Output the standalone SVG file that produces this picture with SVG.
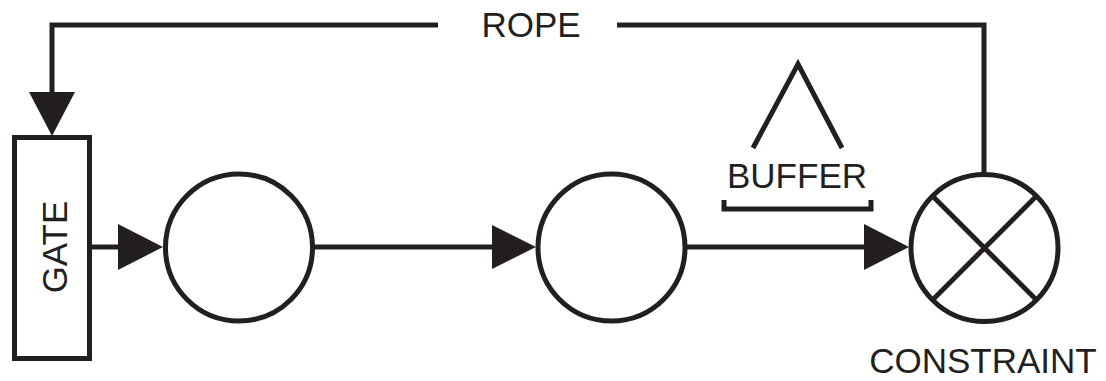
<svg xmlns="http://www.w3.org/2000/svg" width="1106" height="381" viewBox="0 0 1106 381">
<style>
.ln{fill:none;stroke:#231f20;stroke-width:5;stroke-linejoin:miter}
.nd{fill:#fff;stroke:#231f20;stroke-width:5}
.ah{fill:#231f20}
.tx{font-family:"Liberation Sans",Arial,sans-serif;fill:#231f20;font-size:35px}
</style>
<rect width="1106" height="381" fill="#fff"/>
<g id="connectors">
<polyline class="ln" points="438,25 52,25 52,95"/>
<polygon class="ah" points="29,92 75,92 52,136"/>
<polyline class="ln" points="617,25 984,25 984,172"/>
<line class="ln" x1="90" y1="247" x2="120" y2="247"/>
<polygon class="ah" points="118,224 118,270 163,247"/>
<line class="ln" x1="313" y1="247" x2="495" y2="247"/>
<polygon class="ah" points="492,225 492,269 536,247"/>
<line class="ln" x1="686" y1="247" x2="866" y2="247"/>
<polygon class="ah" points="864,224 864,270 909,247"/>
<text class="tx" x="531" y="37" text-anchor="middle">ROPE</text>
</g>
<g id="gate">
<rect class="nd" x="14.5" y="137.5" width="75" height="221"/>
<text class="tx" x="67" y="247" text-anchor="middle" transform="rotate(-90 67 247)">GATE</text>
</g>
<g id="process1">
<circle class="nd" cx="239" cy="247.5" r="73.5"/>
</g>
<g id="process2">
<circle class="nd" cx="611.5" cy="247.5" r="73.5"/>
</g>
<g id="buffer">
<polyline class="ln" points="753,148 798,64 842,148"/>
<text class="tx" x="797" y="188" text-anchor="middle" font-size="32" textLength="140" lengthAdjust="spacingAndGlyphs">BUFFER</text>
<polyline class="ln" points="724,200 724,209 871,209 871,200"/>
</g>
<g id="constraint">
<circle class="nd" cx="984.5" cy="248" r="73.5"/>
<line class="ln" x1="932.5" y1="196" x2="1036.5" y2="300"/>
<line class="ln" x1="1036.5" y1="196" x2="932.5" y2="300"/>
<text class="tx" x="983" y="373" text-anchor="middle">CONSTRAINT</text>
</g>
</svg>
